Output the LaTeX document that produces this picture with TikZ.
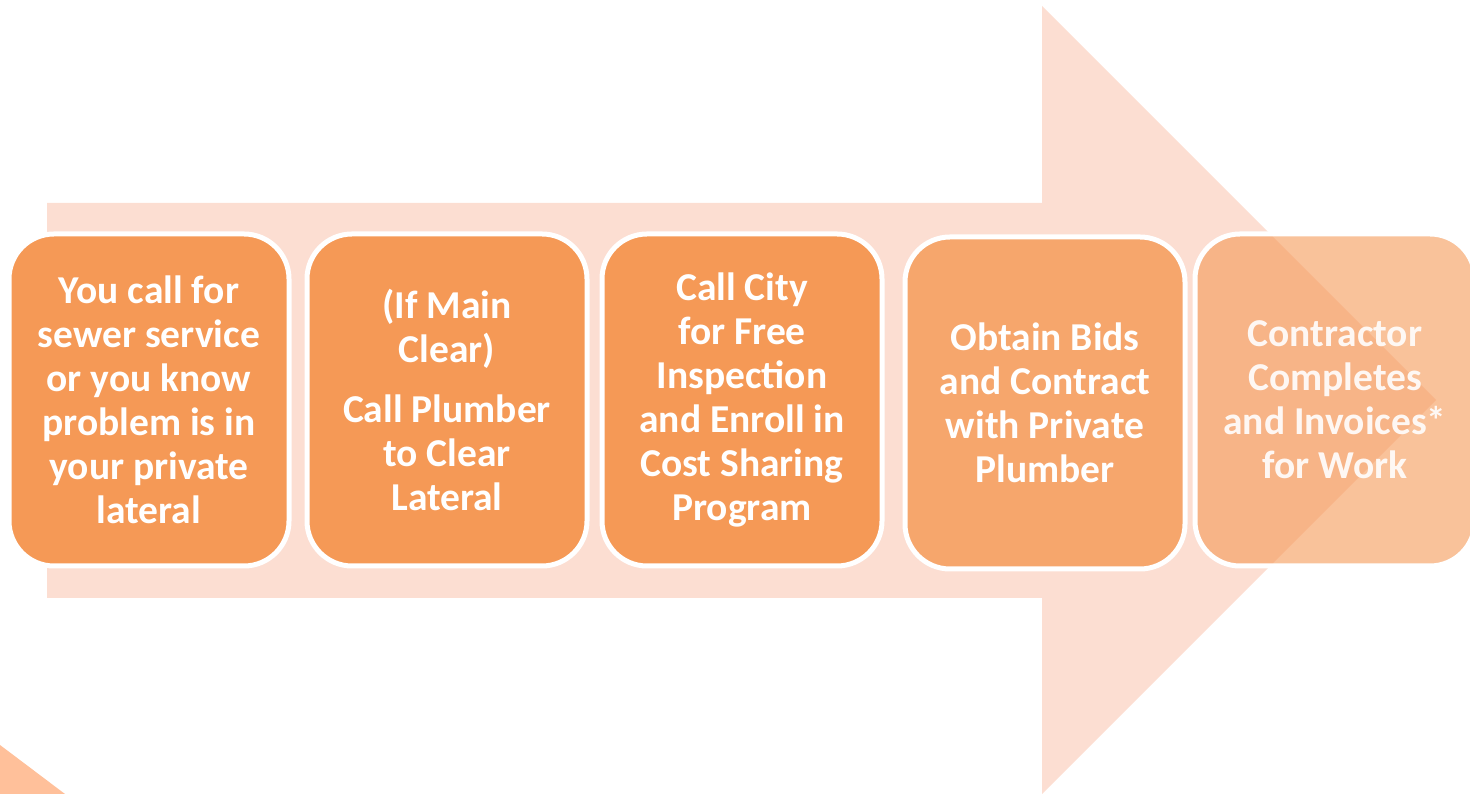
\documentclass[tikz,border=0pt]{standalone}
\usepackage{fontspec}
\setmainfont{Carlito}
\usepackage{xcolor}
\usetikzlibrary{positioning}

\definecolor{arrowpeach}{RGB}{252,222,210}
\definecolor{stepfill}{RGB}{245,153,86}
\definecolor{stepfilllight}{RGB}{246,166,108}
\definecolor{cornerpeach}{RGB}{255,192,154}

\begin{document}
\begin{tikzpicture}[
		x=1pt, y=1pt,
		stepbox/.style={draw=white, line width=5pt, fill=stepfill, rounded corners=45pt,
			minimum width=280pt, minimum height=332pt, inner sep=2pt,
			text=white, align=center,
			font=\fontsize{39.5}{44}\selectfont\bfseries},
		laststep/.style={stepbox, fill opacity=0.6, text opacity=0.9}
		]
		
		\useasboundingbox (0,0) rectangle (1470,794);
		
		% ==========================================
		% BACKGROUND ARROW
		% ==========================================
		\fill[arrowpeach] (47,196) -- (47,591) -- (1042,591) -- (1042,788)
		-- (1436,394) -- (1042,0) -- (1042,196) -- cycle;
		
		% corner of the next shape
		\fill[cornerpeach] (0,0) -- (0,49) -- (65,0) -- cycle;
		
		% ==========================================
		% STEPS
		% ==========================================
		\node[stepbox] (call) at (149,394) {You call for\\sewer service\\or you know\\problem is in\\your private\\lateral};
		
		\node[stepbox, right=13pt of call] (plumber) {(If Main\\Clear)\\[16pt]Call Plumber\\to Clear\\Lateral};
		
		\node[stepbox, right=10pt of plumber] (city) {Call City\\for Free\\Inspection\\and Enroll in\\Cost Sharing\\Program};
		
		\node[stepbox, fill=stepfilllight, right=18pt of city, yshift=-3pt] (bids) {Obtain Bids\\and Contract\\with Private\\Plumber};
		
		\node[laststep, right=5pt of bids, yshift=3pt] (invoice) {Contractor\\Completes\\and Invoices*\\for Work};
		
	\end{tikzpicture}
\end{document}
